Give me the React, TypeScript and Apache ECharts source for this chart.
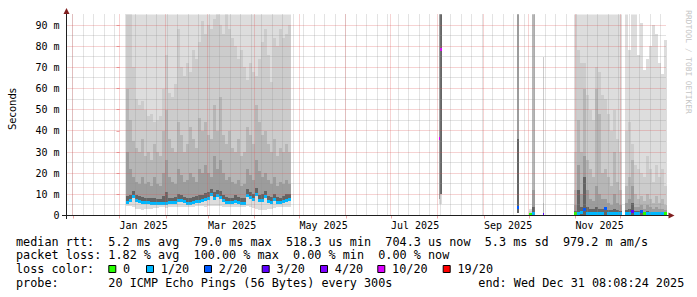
import React, { useEffect, useRef } from "react";
import * as echarts from "echarts";

// ---------- axis structure (x = days since 2025-01-01 00:00) ----------
const X_MIN = -35.333;
const X_MAX = 364.667;
const Y_MIN = 0;
const Y_MAX = 95;
const monthStarts = [-31, 0, 31, 59, 90, 120, 151, 181, 212, 243, 273, 304, 334];
const labelDays = [0, 59, 120, 181, 243, 304];
const labelTexts = ["Jan 2025", "Mar 2025", "May 2025", "Jul 2025", "Sep 2025", "Nov 2025"];
const firstSunday = -31;
const yMajor = [10, 20, 30, 40, 50, 60, 70, 80, 90];
const yMinor = [5, 15, 25, 35, 45, 55, 65, 75, 85];

// ---------- loss legend ----------
const lossLabels = ["0", "1/20", "2/20", "3/20", "4/20", "10/20", "19/20"];
const lossColors = ["#26ff00", "#00b8ff", "#0059ff", "#5e00ff", "#7e00ff", "#dd00ff", "#ff0000"];
const bandColors = ["#dddddd", "#cccccc", "#b6b6b6", "#9c9c9c", "#646464"];

// ---------- legend texts ----------
const statsRows = [
  "median rtt:  5.2 ms avg  79.0 ms max  518.3 us min  704.3 us now  5.3 ms sd  979.2 m am/s",
  "packet loss: 1.82 % avg  100.00 % max  0.00 % min  0.00 % now",
];
const lossTitle = "loss color:";
const probeText = "probe:       20 ICMP Echo Pings (56 Bytes) every 300s";
const endText = "end: Wed Dec 31 08:08:24 2025";
const yTitle = "Seconds";
const watermark = "RRDTOOL / TOBI OETIKER";

// ---------- data (ms), winter block: 2-day buckets from day 4.5 ----------
const winterStart = 4.5;
const winterStep = 2;
const winterMed = [6.0, 7.0, 8.8, 7.0, 6.8, 6.3, 6.2, 6.0, 5.9, 5.8, 5.7, 5.6, 5.6, 5.8, 6.0, 6.1, 6.3, 7.2, 7.0, 6.4, 5.8, 5.6, 6.2, 6.4, 6.6, 7.0, 7.6, 8.2, 9.8, 8.0, 9.3, 8.6, 7.0, 6.2, 6.0, 6.0, 6.8, 6.2, 5.8, 5.9, 9.6, 8.4, 7.4, 9.8, 7.0, 7.2, 8.8, 6.5, 6.3, 7.5, 6.2, 6.0, 6.8, 7.2, 7.4];
const winterMin = [4.5, 4.5, 4.0, 3.0, 3.0, 2.8, 3.0, 3.2, 3.0, 3.5, 3.5, 3.8, 4.0, 3.5, 4.0, 4.0, 4.2, 4.0, 4.0, 4.2, 4.0, 4.0, 4.2, 4.5, 4.5, 4.4, 4.2, 4.5, 4.5, 4.5, 4.6, 4.5, 4.2, 4.0, 3.8, 3.8, 4.0, 4.0, 4.2, 4.0, 4.5, 4.2, 3.5, 3.0, 2.8, 2.6, 2.8, 3.0, 3.2, 3.5, 3.8, 4.0, 4.0, 4.2, 4.2];
const winterB5 = [9, 9.5, 11.5, 9.5, 9, 8.8, 8.5, 8.5, 8.2, 8.5, 8, 8, 9, 11, 8.5, 8.5, 8.8, 10, 9.5, 8.8, 8.2, 8.5, 8.8, 9, 9.5, 9.5, 10.5, 11, 12.5, 11, 12, 11.5, 9.5, 8.8, 8.5, 8.5, 9.5, 8.8, 8.2, 8.5, 12.5, 11, 10, 13, 9.5, 10, 11.5, 9, 8.8, 10, 8.8, 8.5, 9.2, 10, 10];
const winterB4 = [30, 22, 18, 16, 15, 18, 15, 16, 14, 18, 15, 14, 20, 26, 18, 16, 15, 22, 19, 16, 17, 20, 18, 16, 22, 20, 24, 20, 18, 28, 22, 26, 20, 17, 18, 16, 15, 17, 14, 15, 22, 19, 17, 26, 21, 18, 20, 17, 15, 18, 14, 16, 15, 17, 15];
const winterB3 = [60, 45, 35, 32, 30, 36, 28, 30, 26, 34, 30, 28, 40, 50, 36, 32, 30, 44, 38, 30, 34, 42, 36, 32, 46, 40, 44, 38, 36, 52, 40, 56, 38, 34, 40, 32, 30, 36, 28, 30, 42, 38, 34, 52, 44, 38, 40, 34, 30, 36, 28, 32, 30, 34, 30];
const winterB2 = [100, 100, 70, 55, 52, 54, 50, 47, 48, 44, 45, 47, 60, 76, 58, 56, 62, 88, 70, 66, 72, 68, 78, 74, 82, 92, 86, 90, 88, 93, 100, 90, 86, 100, 88, 84, 80, 74, 78, 70, 64, 72, 68, 66, 74, 82, 88, 76, 63, 84, 80, 88, 84, 86, 90];
const winterMax = 100; // every winter bucket reaches past the top of the graph
const winterLoss = 1;

// ---------- isolated summer / autumn spikes ----------
const spikeStart = [213.0, 214.0, 264.8, 273.2, 274.8, 282.1];
const spikeEnd = [214.0, 215.0, 266.3, 274.8, 276.7, 283.2];
const spikeMin = [5.5, 5.5, 1.0, 0.3, 0.3, 0.3];
const spikeFloor = [8, 10, 1.2, 0.3, 0.4, 0.4];
const spikeMed = [36.5, 78.6, 3.9, 0.7, 0.8, 0.7];
const spikeB5 = [0, 100, 36, 0, 4, 0];
const spikeB4 = [100, 100, 100, 0, 12, 0];
const spikeB3 = [100, 100, 100, 0, 100, 6];
const spikeB2 = [100, 100, 100, 2, 100, 75];
const spikeMax = [100, 100, 100, 3, 100, 75];
const spikeLoss = [5, 5, 2, 0, 1, 3];

// ---------- November block ----------
const novStart = 303.2;
const novStep = 2;
const novMed = [0.8, 1.0, 1.2, 2.8, 1.0, 0.9, 0.9, 0.9, 0.9, 0.9, 3.3, 0.9, 0.9, 0.8, 0.8, 0.8];
const novLoss = [0, 1, 1, 2, 1, 1, 1, 1, 1, 1, 2, 1, 1, 1, 1, 1];
const novMin = 0.2;
const novFloor = [0.4, 0.4, 0.4, 0.4, 0.4, 0.4, 0.4, 0.4, 0.4, 0.4, 0.2, 0.4, 0.4, 0.4, 0.4, 0.4];
const novB5 = [2, 12, 4, 18, 4, 3, 3, 4, 3, 3, 3.5, 2.5, 2.5, 3, 2.5, 2];
const novB4 = [5, 24, 10, 28, 12, 8, 7, 14, 10, 8, 8, 6, 5, 10, 6, 5];
const novB3 = [12, 45, 30, 60, 26, 22, 18, 60, 48, 20, 22, 18, 14, 30, 16, 12];
const novB2 = [30, 78, 72, 72, 57, 50, 45, 70, 68, 57, 55, 48, 40, 50, 36, 30];
const novMax = 100;

// ---------- December block ----------
const decStart = 336.8;
const decStep = 2;
const decMed = [0.9, 0.9, 2.0, 0.9, 0.9, 2.0, 0.8, 0.9, 0.9, 0.9, 0.9, 0.9, 0.9, 0.8];
const decLoss = [1, 1, 3, 1, 1, 2, 0, 1, 1, 1, 1, 1, 1, 0];
const decMin = 0.2;
const decFloor = 0.4;
const decB5 = [2.5, 3, 6, 2, 2, 2.2, 1.8, 2, 1.8, 1.6, 1.8, 1.5, 1.5, 1.4];
const decB4 = [6, 8, 14, 4, 4, 5, 3, 5, 4, 3, 4, 3, 3, 2.5];
const decB3 = [14, 18, 26, 10, 8, 9, 7, 10, 8, 6, 9, 6, 8, 5];
const decB2 = [40, 44, 34, 24, 22, 20, 18, 28, 22, 16, 24, 18, 22, 14];
const decMax = [100, 78, 100, 100, 76, 91, 69, 74, 80, 90, 86, 72, 67, 83];

type Arr = number | number[];
const pick = (a: Arr, i: number) => (Array.isArray(a) ? a[i] : a);

function buildItems() {
  const items: number[][] = [];
  const seg = (start: number, step: number, n: number, mn: Arr, fl: Arr, md: Arr, b5: Arr, b4: Arr, b3: Arr, b2: Arr, mx: Arr, loss: Arr) => {
    for (let i = 0; i < n; i++) {
      items.push([start + i * step, start + (i + 1) * step, pick(mn, i), pick(fl, i), pick(md, i), pick(b5, i), pick(b4, i), pick(b3, i), pick(b2, i), pick(mx, i), pick(loss, i)]);
    }
  };
  seg(winterStart, winterStep, winterMed.length, winterMin, winterMed, winterMed, winterB5, winterB4, winterB3, winterB2, winterMax, winterLoss);
  for (let i = 0; i < spikeStart.length; i++) {
    items.push([spikeStart[i], spikeEnd[i], spikeMin[i], spikeFloor[i], spikeMed[i], spikeB5[i], spikeB4[i], spikeB3[i], spikeB2[i], spikeMax[i], spikeLoss[i]]);
  }
  seg(novStart, novStep, novMed.length, novMin, novFloor, novMed, novB5, novB4, novB3, novB2, novMax, novLoss);
  seg(decStart, decStep, decMed.length, decMin, decFloor, decMed, decB5, decB4, decB3, decB2, decMax, decLoss);
  return items;
}

const MONO = "DejaVu Sans Mono";
const MINOR_COLOR = "rgba(143,143,143,0.5)";
const MAJOR_COLOR = "rgba(222,79,79,0.5)";

export default function App() {
  const ref = useRef<HTMLDivElement>(null);
  useEffect(() => {
    if (!ref.current) return;
    const chart = echarts.init(ref.current, undefined, { renderer: "svg" });
    const items = buildItems();

    const weekLines: number[] = [];
    for (let d = firstSunday; d <= X_MAX; d += 7) if (d >= X_MIN) weekLines.push(d);

    // grid lines: [orientation (0 vertical, 1 horizontal), value, major]
    const gridItems: number[][] = [
      ...weekLines.map((d) => [0, d, 0]),
      ...yMinor.map((v) => [1, v, 0]),
      ...monthStarts.map((d) => [0, d, 1]),
      ...yMajor.map((v) => [1, v, 1]),
    ];

    const textEl = (text: string, x: number, y: number, extra: any = {}) => ({
      type: "text",
      x,
      y,
      silent: true,
      style: { text, fontFamily: MONO, fontSize: 11.8, fill: "#000", align: "left", verticalAlign: "middle", ...extra },
    });

    const legendBoxX = [108.3, 146, 204, 261.7, 320, 377.3, 442.7];
    const graphics: any[] = [
      { type: "line", silent: true, z: 20, shape: { x1: 66.5, y1: 219, x2: 66.5, y2: 12 }, style: { stroke: "#1f1f1f", lineWidth: 1 } },
      { type: "line", silent: true, z: 20, shape: { x1: 62, y1: 215.5, x2: 669, y2: 215.5 }, style: { stroke: "#1f1f1f", lineWidth: 1 } },
      { type: "polygon", silent: true, z: 20, shape: { points: [[66.5, 8], [63.5, 14], [69.5, 14]] }, style: { fill: "#801f1f" } },
      { type: "polygon", silent: true, z: 20, shape: { points: [[674.5, 215.5], [668.5, 212.5], [668.5, 218.5]] }, style: { fill: "#801f1f" } },
      { type: "text", x: 12, y: 109, rotation: Math.PI / 2, silent: true, style: { text: yTitle, fontFamily: "DejaVu Sans", fontSize: 10, fill: "#000", align: "center", verticalAlign: "middle" } },
      { type: "text", x: 688, y: 62, rotation: -Math.PI / 2, silent: true, style: { text: watermark, fontFamily: MONO, fontSize: 7.8, fill: "#c4c4c4", align: "center", verticalAlign: "middle" } },
      textEl(statsRows[0], 16, 241.5),
      textEl(statsRows[1], 16, 255),
      textEl(lossTitle, 16, 269),
      textEl(probeText, 16, 283),
      textEl(endText, 478.3, 283),
    ];
    lossLabels.forEach((lab, i) => {
      graphics.push({ type: "rect", silent: true, shape: { x: legendBoxX[i] + 0.5, y: 265.5, width: 7, height: 7 }, style: { fill: lossColors[i], stroke: "#000", lineWidth: 1 } });
      graphics.push(textEl(lab, legendBoxX[i] + 14.8, 269));
    });

    chart.setOption({
      animation: false,
      backgroundColor: "#ffffff",
      grid: { left: 66.5, top: 14.5, width: 600, height: 201, containLabel: false },
      xAxis: {
        type: "value",
        min: X_MIN,
        max: X_MAX,
        axisLine: { show: false },
        splitLine: { show: false },
        axisTick: { show: true, customValues: monthStarts, length: 3, lineStyle: { color: MAJOR_COLOR } },
        axisLabel: {
          show: true,
          customValues: labelDays,
          formatter: (v: number) => {
            const k = labelDays.indexOf(Math.round(v));
            return k >= 0 ? labelTexts[k] : "";
          },
          align: "left",
          margin: 5,
          fontFamily: MONO,
          fontSize: 10,
          color: "#000",
        },
      },
      yAxis: {
        type: "value",
        min: Y_MIN,
        max: Y_MAX,
        interval: 10,
        axisLine: { show: false },
        splitLine: { show: false },
        axisTick: { show: true, length: 3, lineStyle: { color: MAJOR_COLOR } },
        axisLabel: {
          formatter: (v: number) => (v === 0 ? "0" : v % 10 === 0 ? `${v} m` : ""),
          margin: 7,
          fontFamily: MONO,
          fontSize: 10,
          color: "#000",
          showMaxLabel: false,
        },
      },
      series: [
        {
          type: "custom",
          z: 2,
          clip: true,
          encode: { x: [0, 1], y: [2, 4] },
          data: items,
          renderItem: (_params: any, api: any) => {
            const xa = Math.round(api.coord([api.value(0), 0])[0]);
            const xb = Math.round(api.coord([api.value(1), 0])[0]);
            const w = Math.max(1, xb - xa);
            const py = (v: number) => api.coord([0, v])[1];
            const kids: any[] = [];
            const band = (lo: number, hi: number, fill: string) => {
              if (!(hi > lo)) return;
              const top = Math.round(py(hi));
              const bot = Math.round(py(lo));
              kids.push({ type: "rect", shape: { x: xa, y: top, width: w, height: Math.max(1, bot - top) }, style: { fill } });
            };
            const lo = api.value(2);
            const fl = api.value(3);
            const med = api.value(4);
            band(lo, api.value(9), bandColors[0]);
            band(fl, api.value(8), bandColors[1]);
            band(fl, api.value(7), bandColors[2]);
            band(fl, api.value(6), bandColors[3]);
            band(fl, api.value(5), bandColors[4]);
            const ym = Math.round(py(med) - 1.5);
            kids.push({ type: "rect", shape: { x: xa, y: ym, width: w, height: 3 }, style: { fill: lossColors[api.value(10)] } });
            return { type: "group", children: kids };
          },
        },
        {
          type: "custom",
          z: 5,
          silent: true,
          clip: false,
          encode: { x: 1, y: 1 },
          data: gridItems,
          renderItem: (params: any, api: any) => {
            const cs = params.coordSys;
            const orient = api.value(0);
            const v = api.value(1);
            const stroke = api.value(2) ? MAJOR_COLOR : MINOR_COLOR;
            if (orient === 0) {
              const x = Math.floor(api.coord([v, 0])[0]) + 0.5;
              return { type: "line", shape: { x1: x, y1: cs.y, x2: x, y2: cs.y + cs.height }, style: { stroke, lineWidth: 1, lineDash: [1, 1] } };
            }
            const y = Math.floor(api.coord([0, v])[1]) + 0.5;
            return { type: "line", shape: { x1: cs.x, y1: y, x2: cs.x + cs.width, y2: y }, style: { stroke, lineWidth: 1, lineDash: [1, 1] } };
          },
        },
      ],
      graphic: graphics,
    });
    return () => chart.dispose();
  }, []);
  return <div ref={ref} style={{ position: "fixed", left: 0, top: 0, width: 697, height: 297 }} />;
}
